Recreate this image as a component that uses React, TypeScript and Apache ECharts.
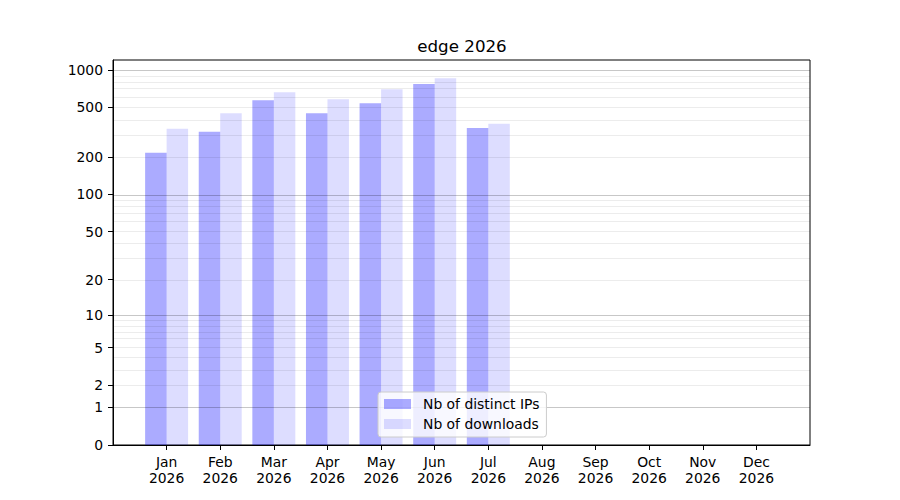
import React, { useEffect, useRef } from "react";
import * as echarts from "echarts";

const titleText = "edge 2026";
const year = "2026";
const months = ["Jan", "Feb", "Mar", "Apr", "May", "Jun", "Jul", "Aug", "Sep", "Oct", "Nov", "Dec"];
const ipCounts = [217, 319, 571, 450, 540, 771, 343, 0, 0, 0, 0, 0];
const downloadCounts = [337, 450, 662, 582, 700, 856, 370, 0, 0, 0, 0, 0];
const seriesNames = ["Nb of distinct IPs", "Nb of downloads"];
const yTickValues = [0, 1, 2, 5, 10, 20, 50, 100, 200, 500, 1000];
const majorGridValues = [1, 10, 100, 1000];
const minorGridValues = [2, 3, 4, 5, 6, 7, 8, 9, 20, 30, 40, 50, 60, 70, 80, 90, 200, 300, 400, 500, 600, 700, 800, 900];

const tf = (v: number) => Math.log10(v + 1);
const inv = (t: number) => Math.round(Math.pow(10, t) - 1);

export default function App() {
  const ref = useRef<HTMLDivElement>(null);
  useEffect(() => {
    if (!ref.current) return;
    const chart = echarts.init(ref.current, undefined, { renderer: "svg" });
    const categories = ["", ...months.map((m) => `${m}\n${year}`), ""];
    const ipData = [null, ...ipCounts.map(tf), null];
    const dlData = [null, ...downloadCounts.map(tf), null];
    const maxVal = Math.max(...ipCounts, ...downloadCounts);
    const yMax = 1.05 * tf(maxVal);
    const font = "DejaVu Sans";
    const gridLines = [
      ...minorGridValues.map((v) => ({ yAxis: tf(v), lineStyle: { color: "rgba(0,0,0,0.075)", width: 1, type: "solid" } })),
      ...majorGridValues.map((v) => ({ yAxis: tf(v), lineStyle: { color: "rgba(0,0,0,0.22)", width: 1, type: "solid" } })),
    ];
    chart.setOption({
      animation: false,
      textStyle: { fontFamily: font },
      title: {
        text: titleText,
        left: 457,
        textAlign: "center",
        top: 32,
        textStyle: { fontFamily: font, fontSize: 16.7, fontWeight: "normal", color: "#000" },
      },
      grid: {
        left: 113,
        right: 90,
        top: 60,
        bottom: 55,
        show: true,
        borderColor: "#000",
        borderWidth: 1,
        backgroundColor: "transparent",
      },
      legend: {
        data: seriesNames,
        orient: "vertical",
        left: 378,
        top: 392,
        itemWidth: 27,
        itemHeight: 10,
        itemGap: 6,
        icon: "rect",
        padding: [5, 7, 6, 6],
        backgroundColor: "rgba(255,255,255,0.8)",
        borderColor: "#cccccc",
        borderWidth: 1,
        borderRadius: 3,
        z: 10,
        textStyle: { fontFamily: font, fontSize: 13.9, color: "#000", padding: [0, 0, 0, 7], lineHeight: 14 },
      },
      xAxis: {
        type: "category",
        data: categories,
        boundaryGap: false,
        axisLine: { show: true, lineStyle: { color: "#000", width: 1 } },
        axisTick: {
          show: true,
          length: 5,
          interval: (i: number) => i > 0 && i < categories.length - 1,
          lineStyle: { color: "#000" },
        },
        axisLabel: {
          interval: 0,
          color: "#000",
          fontSize: 13.9,
          lineHeight: 16,
          margin: 9,
          fontFamily: font,
        },
        splitLine: { show: false },
      },
      yAxis: {
        type: "value",
        min: 0,
        max: yMax,
        axisLine: { show: true, lineStyle: { color: "#000", width: 1 } },
        axisTick: {
          show: true,
          length: 5,
          customValues: yTickValues.map(tf),
          lineStyle: { color: "#000" },
        },
        axisLabel: {
          customValues: yTickValues.map(tf),
          formatter: (v: number) => String(inv(v)),
          color: "#000",
          fontSize: 13.9,
          margin: 10,
          fontFamily: font,
        },
        splitLine: { show: false },
      },
      series: [
        {
          name: seriesNames[0],
          type: "bar",
          data: ipData,
          barWidth: 21.5,
          barGap: "0%",
          z: 2,
          itemStyle: { color: "rgba(0,0,255,0.33)" },
        },
        {
          name: seriesNames[1],
          type: "bar",
          data: dlData,
          barWidth: 21.5,
          barGap: "0%",
          z: 2,
          itemStyle: { color: "rgba(0,0,255,0.135)" },
        },
        {
          type: "line",
          data: [],
          z: 3,
          silent: true,
          markLine: {
            silent: true,
            symbol: "none",
            label: { show: false },
            data: gridLines,
          },
        },
      ],
    });
    return () => chart.dispose();
  }, []);
  return (
    <div
      ref={ref}
      style={{ position: "absolute", left: 0, top: 0, width: 900, height: 500, background: "#fff" }}
    />
  );
}
